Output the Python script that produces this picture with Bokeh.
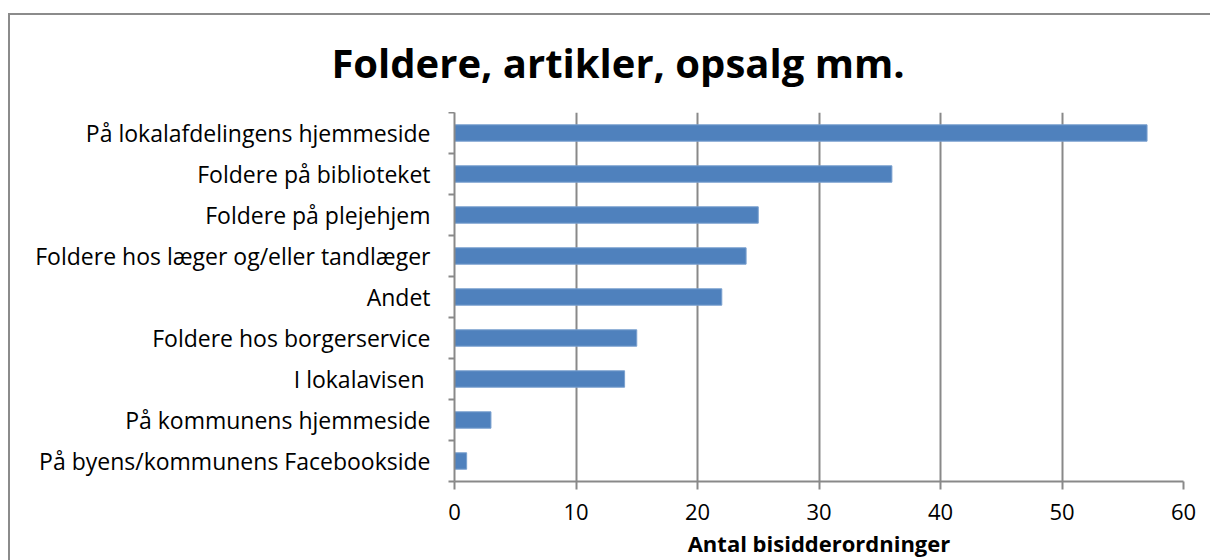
from bokeh.plotting import figure
from bokeh.models import ColumnDataSource, FixedTicker, Range1d, Div
from bokeh.layouts import column
from bokeh.embed import file_html
from bokeh.resources import INLINE

categories = [
    "På lokalafdelingens hjemmeside",
    "Foldere på biblioteket",
    "Foldere på plejehjem",
    "Foldere hos læger og/eller tandlæger",
    "Andet",
    "Foldere hos borgerservice",
    "I lokalavisen ",
    "På kommunens hjemmeside",
    "På byens/kommunens Facebookside",
]
values = [57, 36, 25, 24, 22, 15, 14, 3, 1]
x_ticks = [0, 10, 20, 30, 40, 50, 60]
title_text = "Foldere, artikler, opsalg mm."
x_title = "Antal bisidderordninger"

n = len(categories)
pos = [n - i - 0.5 for i in range(n)]
src = ColumnDataSource(dict(y=pos, v=values, cat=categories))

FONT = "Open Sans"
GRAY = "#898989"

title_div = Div(
    text=('<div style="font-family:\'Open Sans\'; font-size:40px; font-weight:bold; '
          'line-height:40px; padding-top:28px; margin-left:16px; width:1184px; '
          'text-align:center; color:black; white-space:nowrap;">'
          + title_text + '</div>'),
    width=1200, height=97, margin=0)

p = figure(width=1200, height=448, output_backend="svg", toolbar_location=None,
           x_range=Range1d(0, 60), y_range=Range1d(0, n), margin=0,
           min_border_left=444, min_border_right=27, min_border_top=0, min_border_bottom=79)
p.outline_line_color = None
p.background_fill_color = "white"
p.border_fill_color = "white"

p.hbar(y="y", right="v", left=0, height=0.4, source=src,
       fill_color="#4F81BD", line_color="#7aa0cf", line_width=1)

p.xaxis.ticker = FixedTicker(ticks=x_ticks)
p.xaxis.major_tick_out = 8
p.xaxis.major_tick_in = 0
p.xaxis.minor_tick_out = 0
p.xaxis.minor_tick_in = 0
p.xaxis.axis_line_color = GRAY
p.xaxis.axis_line_width = 2
p.xaxis.major_tick_line_color = GRAY
p.xaxis.major_tick_line_width = 2
p.xaxis.major_label_text_font = FONT
p.xaxis.major_label_text_font_size = "22px"
p.xaxis.major_label_text_color = "black"
p.xaxis.major_label_standoff = 14
p.xaxis.axis_label = x_title
p.xaxis.axis_label_text_font = FONT
p.xaxis.axis_label_text_font_style = "bold"
p.xaxis.axis_label_text_font_size = "22px"
p.xaxis.axis_label_text_color = "black"
p.xaxis.axis_label_standoff = 5

p.yaxis.ticker = FixedTicker(ticks=pos, minor_ticks=list(range(n + 1)))
p.yaxis.major_label_overrides = {pp: c for pp, c in zip(pos, categories)}
p.yaxis.major_tick_out = 0
p.yaxis.major_tick_in = 0
p.yaxis.minor_tick_out = 6
p.yaxis.minor_tick_in = 0
p.yaxis.minor_tick_line_color = GRAY
p.yaxis.minor_tick_line_width = 2
p.yaxis.axis_line_color = GRAY
p.yaxis.axis_line_width = 2
p.yaxis.major_label_text_font = FONT
p.yaxis.major_label_text_font_size = "23px"
p.yaxis.major_label_text_color = "black"
p.yaxis.major_label_standoff = 18

p.xgrid.ticker = FixedTicker(ticks=x_ticks[1:])
p.xgrid.grid_line_color = GRAY
p.xgrid.grid_line_width = 2
p.ygrid.grid_line_color = None

layout = column(title_div, p, spacing=0,
                styles={"border-top": "2px solid #8b8b8b", "border-left": "2px solid #8b8b8b",
                        "margin-top": "13px", "margin-left": "8px", "background": "white"})

open("out.html", "w").write(file_html(layout, INLINE))
